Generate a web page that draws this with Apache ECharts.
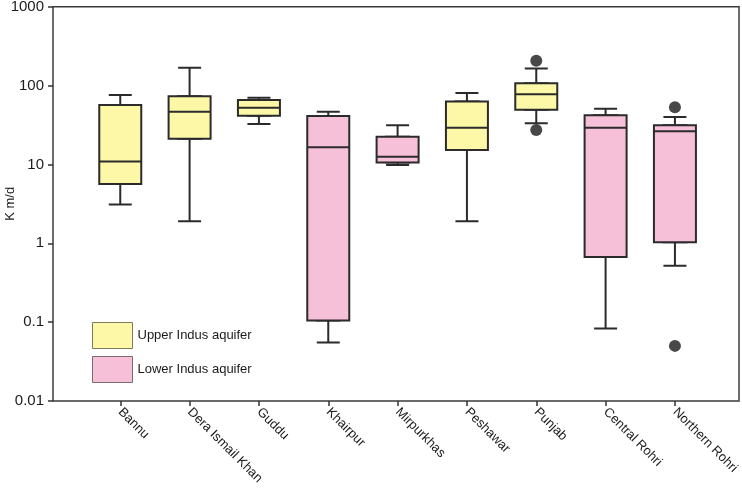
<!DOCTYPE html>
<html>
<head>
<meta charset="utf-8">
<script src="https://cdn.jsdelivr.net/npm/echarts@6/dist/echarts.min.js"></script>
<style>
html, body { margin: 0; padding: 0; background: #fff; }
#chart { width: 742px; height: 495px; }
</style>
</head>
<body>
<div id="chart"></div>
<script>
const categories = ['Bannu', 'Dera Ismail Khan', 'Guddu', 'Khairpur', 'Mirpurkhas', 'Peshawar', 'Punjab', 'Central Rohri', 'Northern Rohri'];
const aquifer = ['Upper', 'Upper', 'Upper', 'Lower', 'Lower', 'Upper', 'Upper', 'Lower', 'Lower'];
const whiskerLow = [3.1, 1.9, 32.6, 0.055, 9.8, 1.9, 33.2, 0.083, 0.52];
const q1 = [5.65, 21.2, 41.5, 0.105, 10.6, 15.2, 49.4, 0.67, 1.03];
const median = [10.9, 46.6, 52.4, 16.5, 12.5, 29.2, 77.4, 29.2, 26.3];
const q3 = [56.6, 73, 65.6, 41, 22.4, 63, 106.7, 42, 31.3];
const whiskerHigh = [76, 168, 70, 46.4, 31.4, 80.5, 164, 50.9, 39.9];
const outlierCats = ['Punjab', 'Punjab', 'Northern Rohri', 'Northern Rohri'];
const outlierValues = [206, 27.3, 53, 0.05];
const yTickLabels = ['0.01', '0.1', '1', '10', '100', '1000'];
const seriesNames = { Upper: 'Upper Indus aquifer', Lower: 'Lower Indus aquifer' };

const FONT = 'Liberation Sans, Arial, sans-serif';
const LINE = '#2b2b2b';
const colors = { Upper: '#fdf8a8', Lower: '#f6c1d8' };

// whiskers + caps (narrow)
const whiskerData = categories.map((c, i) => [whiskerLow[i], q1[i], median[i], q3[i], whiskerHigh[i]]);
// boxes (wide), per group
function boxData(group) {
  return categories.map((c, i) => aquifer[i] === group
    ? [q1[i], q1[i], median[i], q3[i], q3[i]]
    : ['-', '-', '-', '-', '-']);
}

const hiddenCat = (gi) => ({ type: 'category', gridIndex: gi, data: categories, show: false, boundaryGap: true });
const logAxisBase = { type: 'log', logBase: 10, min: 0.01, max: 1000, splitNumber: 5 };

const option = {
  animation: false,
  textStyle: { fontFamily: FONT },
  grid: [
    { left: 85.6, right: 32.4, top: 6.7, bottom: 94, outerBoundsMode: 'none', containLabel: false },
    { left: 53, right: 3, top: 6.7, bottom: 94, outerBoundsMode: 'none', containLabel: false,
      show: true, borderColor: '#3a3a3a', borderWidth: 1.5, backgroundColor: 'transparent' }
  ],
  legend: {
    data: [
      { name: seriesNames.Upper, itemStyle: { color: colors.Upper, borderColor: '#7d7a5a', borderWidth: 1 } },
      { name: seriesNames.Lower, itemStyle: { color: colors.Lower, borderColor: '#7d6a70', borderWidth: 1 } }
    ],
    orient: 'vertical', left: 92, top: 322, padding: 0,
    itemWidth: 40, itemHeight: 26, itemGap: 7,
    icon: 'rect',
    textStyle: { fontSize: 13, color: '#1a1a1a', fontFamily: FONT },
    selectedMode: false
  },
  xAxis: [
    {
      type: 'category', gridIndex: 0, data: categories, boundaryGap: true,
      axisLine: { show: false },
      axisTick: { show: true, alignWithLabel: true, length: 5, lineStyle: { color: '#333', width: 1.5 } },
      axisLabel: { rotate: -45, margin: 9, fontSize: 13, color: '#1a1a1a', fontFamily: FONT, interval: 0 },
      splitLine: { show: false }
    },
    hiddenCat(0),
    hiddenCat(0),
    { type: 'value', gridIndex: 1, show: false, min: 0, max: 1 }
  ],
  yAxis: [
    Object.assign({}, logAxisBase, {
      gridIndex: 1,
      name: 'K m/d', nameLocation: 'middle', nameGap: 36, nameRotate: 90, nameMoveOverlap: false,
      nameTextStyle: { fontSize: 13, color: '#1a1a1a', fontFamily: FONT },
      axisLine: { show: false },
      axisTick: { show: true, length: 5, lineStyle: { color: '#333', width: 1.5 } },
      axisLabel: { fontSize: 15, color: '#1a1a1a', margin: 9, fontFamily: FONT,
        formatter: (v, i) => yTickLabels[i] },
      splitLine: { show: false }
    }),
    Object.assign({}, logAxisBase, { gridIndex: 0, show: false, splitLine: { show: false } })
  ],
  series: [
    {
      name: 'whiskers', type: 'boxplot', xAxisIndex: 0, yAxisIndex: 1, z: 2,
      boxWidth: [23, 23], data: whiskerData,
      itemStyle: { color: '#ffffff', borderColor: LINE, borderWidth: 2 },
      emphasis: { disabled: true }, silent: true
    },
    {
      name: seriesNames.Upper, type: 'boxplot', xAxisIndex: 1, yAxisIndex: 1, z: 3,
      boxWidth: [42, 42], data: boxData('Upper'),
      itemStyle: { color: colors.Upper, borderColor: LINE, borderWidth: 2 },
      emphasis: { disabled: true }, silent: true
    },
    {
      name: seriesNames.Lower, type: 'boxplot', xAxisIndex: 2, yAxisIndex: 1, z: 3,
      boxWidth: [42, 42], data: boxData('Lower'),
      itemStyle: { color: colors.Lower, borderColor: LINE, borderWidth: 2 },
      emphasis: { disabled: true }, silent: true
    },
    {
      name: 'outliers', type: 'scatter', xAxisIndex: 0, yAxisIndex: 1, z: 4,
      symbol: 'circle', symbolSize: 12,
      itemStyle: { color: '#1a1a1a' },
      data: outlierCats.map((c, i) => [c, outlierValues[i]]),
      silent: true
    }
  ]
};

const chart = echarts.init(document.getElementById('chart'), null, { renderer: 'canvas' });
chart.setOption(option);
</script>
</body>
</html>
